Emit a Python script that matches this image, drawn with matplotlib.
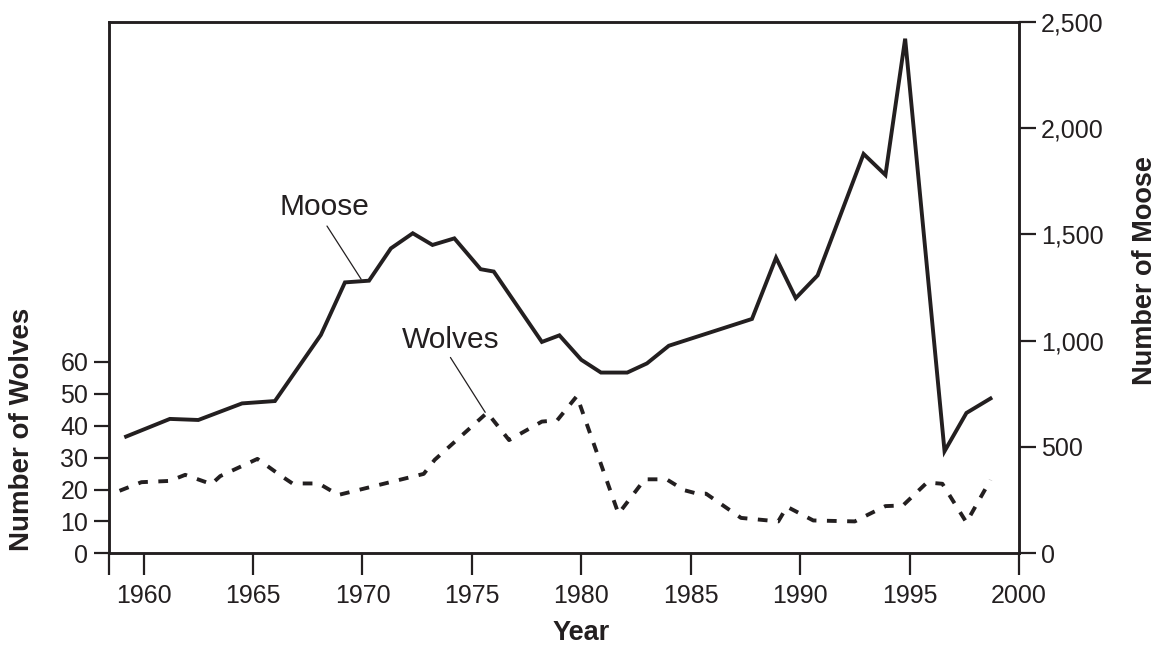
import matplotlib
matplotlib.use("Agg")
import matplotlib.pyplot as plt
from matplotlib.ticker import FuncFormatter

plt.rcParams['font.family'] = ['Liberation Sans', 'DejaVu Sans']
ink = '#231f20'

# Moose population
moose_years = [1959.2, 1961.2, 1962.5, 1964.5, 1966.0, 1968.1, 1969.2, 1970.3,
               1971.3, 1972.3, 1973.2, 1974.2, 1975.4, 1976.0, 1978.2, 1979.0,
               1980.0, 1980.9, 1982.1, 1983.0, 1984.0, 1987.8, 1988.9, 1989.8,
               1990.8, 1992.9, 1993.9, 1994.8, 1996.6, 1997.6, 1998.7]
moose = [549, 632, 627, 705, 716, 1027, 1274, 1282,
         1434, 1505, 1450, 1481, 1336, 1325, 994, 1025,
         910, 850, 850, 893, 976, 1102, 1390, 1200,
         1307, 1878, 1779, 2420, 480, 660, 728]

# Wolf population
wolf_years = [1958.9, 1959.9, 1961.2, 1961.9, 1963.1, 1963.5, 1965.2, 1966.3,
              1966.8, 1968.0, 1968.9, 1972.8, 1973.3, 1975.7, 1976.7, 1978.2,
              1978.9, 1979.8, 1981.7, 1982.9, 1983.9, 1984.7, 1985.3, 1985.7,
              1987.3, 1989.0, 1989.4, 1990.6, 1992.5, 1993.1, 1993.9, 1994.7,
              1995.8, 1996.5, 1997.6, 1998.7]
wolves = [19.6, 22.3, 22.7, 24.6, 21.7, 24.2, 29.6, 24.2,
          21.9, 21.9, 18.3, 24.9, 29.3, 44.1, 35.5, 41.3,
          41.7, 49.3, 12.4, 23.2, 23.2, 19.8, 18.7, 18.7,
          11.1, 10.0, 14.6, 10.3, 10.0, 12.1, 14.8, 15.0,
          22.2, 21.8, 9.7, 23.0]

year_ticks = [1960, 1965, 1970, 1975, 1980, 1985, 1990, 1995, 2000]
wolf_ticks = [0, 10, 20, 30, 40, 50, 60]
moose_ticks = [0, 500, 1000, 1500, 2000, 2500]

fig = plt.figure(figsize=(11.6, 6.47), dpi=100)
ax = fig.add_axes([0.094, 0.1448, 0.7844, 0.8217])
ax2 = ax.twinx()

ax2.plot(moose_years, moose, color=ink, lw=2.8, solid_joinstyle='miter')
ax.plot(wolf_years, wolves, color=ink, lw=2.8, linestyle=(0, (2.5, 2.7)))

x0 = 1958.42
ax.set_xlim(x0, 2000)
ax.set_ylim(0, 2500 / 15)
ax2.set_ylim(0, 2500)

ax.set_xticks(year_ticks)
ax.set_xticks([x0], minor=True)
ax.set_yticks(wolf_ticks)
ax2.set_yticks(moose_ticks)
ax2.yaxis.set_major_formatter(FuncFormatter(lambda v, p: f'{int(v):,}'))

ax.tick_params(axis='x', which='both', length=16, width=1.6, labelsize=18,
               pad=6, color=ink, labelcolor=ink)
ax.tick_params(axis='y', length=11, width=1.6, labelsize=18, pad=4,
               color=ink, labelcolor=ink)
ax2.tick_params(axis='y', length=12, width=1.6, labelsize=18, pad=4,
                color=ink, labelcolor=ink)

for a in (ax, ax2):
    for s in a.spines.values():
        s.set_linewidth(1.8)
        s.set_color(ink)

# axis titles
ax.set_xlabel('Year', fontsize=19.5, fontweight='bold', color=ink,
              labelpad=9, x=(1980 - x0) / (2000 - x0))
ax.text(-0.0959, 0.234, 'Number of Wolves', transform=ax.transAxes,
        rotation=90, ha='center', va='center', fontsize=20,
        fontweight='bold', color=ink)
ax.text(1.1384, 0.531, 'Number of Moose', transform=ax.transAxes,
        rotation=90, ha='center', va='center', fontsize=19.5,
        fontweight='bold', color=ink)

# line labels with leader lines
ax2.text(1968.25, 1591, 'Moose', fontsize=21.5, ha='center', va='baseline', color=ink)
ax2.annotate('', xy=(1969.94, 1289), xytext=(1968.38, 1539),
             arrowprops=dict(arrowstyle='-', color=ink, lw=0.9, shrinkA=0, shrinkB=0))
ax.text(1974.05, 64.5, 'Wolves', fontsize=21.5, ha='center', va='baseline', color=ink)
ax.annotate('', xy=(1975.61, 44.2), xytext=(1974.02, 61.4),
            arrowprops=dict(arrowstyle='-', color=ink, lw=0.9, shrinkA=0, shrinkB=0))

fig.savefig('out.png', dpi=100)
